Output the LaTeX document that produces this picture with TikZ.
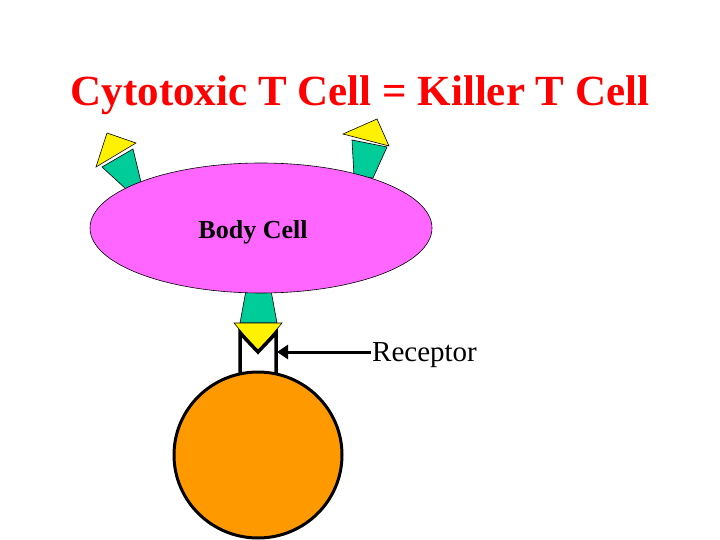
\documentclass[tikz,border=0pt]{standalone}
\usepackage{fontspec}
\setmainfont{Liberation Serif}
\usetikzlibrary{shapes.geometric,arrows.meta}
\begin{document}
\begin{tikzpicture}[x=1pt,y=-1pt]
\definecolor{tealc}{HTML}{00CC99}
\definecolor{mag}{HTML}{FF66FF}
\definecolor{org}{HTML}{FF9900}
\tikzset{mhc/.style={fill=tealc,draw=black,line width=0.6pt},
  pep/.style={fill=yellow,draw=black,line width=0.6pt}}
\useasboundingbox (0,0) rectangle (720,540);
\node (title) at (360,95) {\fontsize{43}{50}\selectfont\bfseries\color{red}Cytotoxic T Cell = Killer T Cell};
\filldraw[mhc] (102,167) -- (133,149) -- (141,182) -- (127,190) -- cycle;
\filldraw[pep] (107,133) -- (136,143) -- (96,167) -- cycle;
\filldraw[mhc] (352,140) -- (387,147) -- (373,178) -- (354,176) -- cycle;
\filldraw[pep] (343,134) -- (377,119) -- (389,146) -- cycle;
\filldraw[mhc] (247,285) -- (270,285) -- (277,323) -- (240,323) -- cycle;
\node[ellipse,draw=black,fill=mag,line width=0.6pt,minimum width=342,minimum height=130,inner sep=0] (body) at (261,228) {};
\node (bodylabel) at (253,232) {\fontsize{26}{30}\selectfont\bfseries Body Cell};
\filldraw[pep] (234,323) -- (282,323) -- (258,352) -- cycle;
\node[ellipse,draw=black,fill=org,line width=3pt,minimum width=168,minimum height=166,inner sep=0] (tcell) at (258,455) {};
\draw[line width=3.5pt,line join=miter] (240,373) -- (240,333) -- (258,352) -- (276,333) -- (276,373);
\coordinate (rec) at (277,352);
\node[anchor=west,inner sep=1pt] (reclabel) at (371,355) {\fontsize{29}{34}\selectfont Receptor};
\draw[line width=3pt,-{Triangle[length=11pt,width=14pt]}] (reclabel.west) ++(0,-3) -- (rec);
\end{tikzpicture}
\end{document}
